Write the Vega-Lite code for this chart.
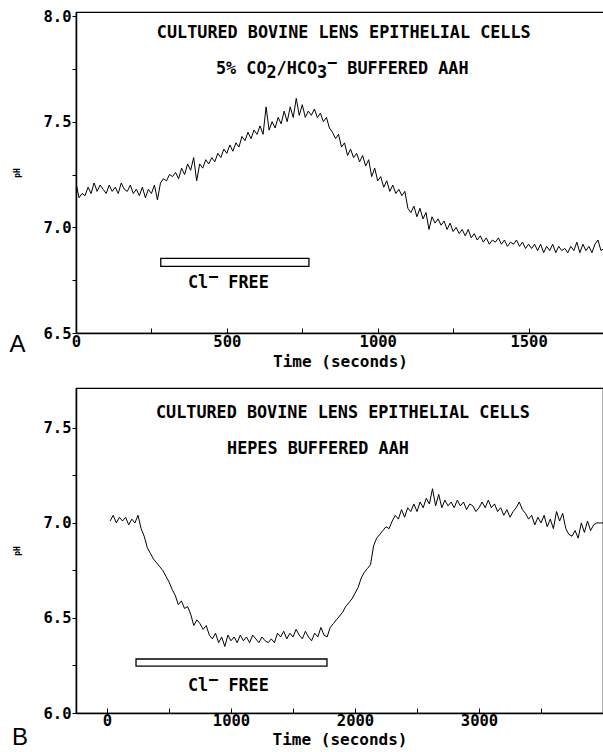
{
  "$schema": "https://vega.github.io/schema/vega-lite/v6.json",
  "background": "white",
  "padding": {"left": 8, "top": 8, "right": 0, "bottom": 0},
  "spacing": 55,
  "bounds": "flush",
  "config": {
    "view": {"stroke": "black", "strokeWidth": 1.2},
    "axis": {
      "grid": false,
      "labelFont": "DejaVu Sans Mono",
      "labelFontWeight": "bold",
      "labelFontSize": 15.5,
      "labelColor": "black",
      "titleFont": "DejaVu Sans Mono",
      "titleFontWeight": "bold",
      "titleColor": "black",
      "domainColor": "black",
      "domainWidth": 1.5,
      "tickColor": "black",
      "tickWidth": 1,
      "labelFlush": false,
      "labelOverlap": false
    },
    "text": {"color": "black"}
  },
  "datasets": {
    "traceA": [
      {"t":0,"pH":7.21},{"t":10,"pH":7.14},{"t":20,"pH":7.16},{"t":30,"pH":7.15},{"t":40,"pH":7.19},{"t":50,"pH":7.16},{"t":60,"pH":7.21},{"t":70,"pH":7.17},{"t":80,"pH":7.2},{"t":90,"pH":7.18},
      {"t":100,"pH":7.16},{"t":110,"pH":7.2},{"t":120,"pH":7.17},{"t":130,"pH":7.19},{"t":140,"pH":7.16},{"t":150,"pH":7.21},{"t":160,"pH":7.18},{"t":170,"pH":7.17},{"t":180,"pH":7.2},{"t":190,"pH":7.16},
      {"t":200,"pH":7.18},{"t":210,"pH":7.15},{"t":220,"pH":7.19},{"t":230,"pH":7.14},{"t":240,"pH":7.18},{"t":250,"pH":7.16},{"t":260,"pH":7.2},{"t":270,"pH":7.13},{"t":280,"pH":7.21},{"t":290,"pH":7.23},
      {"t":300,"pH":7.22},{"t":310,"pH":7.25},{"t":320,"pH":7.24},{"t":330,"pH":7.26},{"t":340,"pH":7.23},{"t":350,"pH":7.28},{"t":360,"pH":7.25},{"t":370,"pH":7.3},{"t":380,"pH":7.27},{"t":390,"pH":7.33},
      {"t":400,"pH":7.22},{"t":410,"pH":7.3},{"t":420,"pH":7.28},{"t":430,"pH":7.32},{"t":440,"pH":7.3},{"t":450,"pH":7.33},{"t":460,"pH":7.31},{"t":470,"pH":7.35},{"t":480,"pH":7.33},{"t":490,"pH":7.37},
      {"t":500,"pH":7.35},{"t":510,"pH":7.39},{"t":520,"pH":7.36},{"t":530,"pH":7.4},{"t":540,"pH":7.38},{"t":550,"pH":7.43},{"t":560,"pH":7.41},{"t":570,"pH":7.45},{"t":580,"pH":7.42},{"t":590,"pH":7.46},
      {"t":600,"pH":7.44},{"t":610,"pH":7.48},{"t":620,"pH":7.44},{"t":630,"pH":7.57},{"t":640,"pH":7.46},{"t":650,"pH":7.5},{"t":660,"pH":7.47},{"t":670,"pH":7.52},{"t":680,"pH":7.49},{"t":690,"pH":7.55},
      {"t":700,"pH":7.5},{"t":710,"pH":7.57},{"t":720,"pH":7.52},{"t":730,"pH":7.61},{"t":740,"pH":7.53},{"t":750,"pH":7.58},{"t":760,"pH":7.52},{"t":770,"pH":7.55},{"t":780,"pH":7.53},{"t":790,"pH":7.56},
      {"t":800,"pH":7.52},{"t":810,"pH":7.54},{"t":820,"pH":7.5},{"t":830,"pH":7.52},{"t":840,"pH":7.47},{"t":850,"pH":7.45},{"t":860,"pH":7.42},{"t":870,"pH":7.44},{"t":880,"pH":7.38},{"t":890,"pH":7.4},
      {"t":900,"pH":7.34},{"t":910,"pH":7.37},{"t":920,"pH":7.33},{"t":930,"pH":7.35},{"t":940,"pH":7.31},{"t":950,"pH":7.34},{"t":960,"pH":7.29},{"t":970,"pH":7.32},{"t":980,"pH":7.24},{"t":990,"pH":7.28},
      {"t":1000,"pH":7.22},{"t":1010,"pH":7.24},{"t":1020,"pH":7.19},{"t":1030,"pH":7.22},{"t":1040,"pH":7.17},{"t":1050,"pH":7.2},{"t":1060,"pH":7.16},{"t":1070,"pH":7.18},{"t":1080,"pH":7.15},{"t":1090,"pH":7.17},
      {"t":1100,"pH":7.09},{"t":1110,"pH":7.07},{"t":1120,"pH":7.1},{"t":1130,"pH":7.05},{"t":1140,"pH":7.09},{"t":1150,"pH":7.04},{"t":1160,"pH":7.07},{"t":1170,"pH":6.99},{"t":1180,"pH":7.05},{"t":1190,"pH":7.02},
      {"t":1200,"pH":7.04},{"t":1210,"pH":7.01},{"t":1220,"pH":7.03},{"t":1230,"pH":6.99},{"t":1240,"pH":7.02},{"t":1250,"pH":6.98},{"t":1260,"pH":7.0},{"t":1270,"pH":6.97},{"t":1280,"pH":6.99},{"t":1290,"pH":6.96},
      {"t":1300,"pH":6.99},{"t":1310,"pH":6.95},{"t":1320,"pH":6.97},{"t":1330,"pH":6.94},{"t":1340,"pH":6.96},{"t":1350,"pH":6.93},{"t":1360,"pH":6.95},{"t":1370,"pH":6.92},{"t":1380,"pH":6.94},{"t":1390,"pH":6.93},
      {"t":1400,"pH":6.95},{"t":1410,"pH":6.92},{"t":1420,"pH":6.94},{"t":1430,"pH":6.91},{"t":1440,"pH":6.93},{"t":1450,"pH":6.92},{"t":1460,"pH":6.94},{"t":1470,"pH":6.91},{"t":1480,"pH":6.93},{"t":1490,"pH":6.9},
      {"t":1500,"pH":6.92},{"t":1510,"pH":6.9},{"t":1520,"pH":6.92},{"t":1530,"pH":6.89},{"t":1540,"pH":6.92},{"t":1550,"pH":6.88},{"t":1560,"pH":6.91},{"t":1570,"pH":6.89},{"t":1580,"pH":6.92},{"t":1590,"pH":6.88},
      {"t":1600,"pH":6.91},{"t":1610,"pH":6.89},{"t":1620,"pH":6.9},{"t":1630,"pH":6.88},{"t":1640,"pH":6.91},{"t":1650,"pH":6.89},{"t":1660,"pH":6.93},{"t":1670,"pH":6.88},{"t":1680,"pH":6.92},{"t":1690,"pH":6.89},
      {"t":1700,"pH":6.91},{"t":1710,"pH":6.88},{"t":1720,"pH":6.92},{"t":1730,"pH":6.94},{"t":1740,"pH":6.89},{"t":1750,"pH":6.9}
    ],
    "traceB": [
      {"t":25,"pH":7.01},{"t":50,"pH":7.04},{"t":75,"pH":7.0},{"t":100,"pH":7.03},{"t":125,"pH":7.01},{"t":150,"pH":7.03},{"t":175,"pH":6.99},{"t":200,"pH":7.02},{"t":225,"pH":7.0},{"t":250,"pH":7.04},
      {"t":275,"pH":6.97},{"t":300,"pH":6.93},{"t":325,"pH":6.87},{"t":350,"pH":6.84},{"t":375,"pH":6.81},{"t":400,"pH":6.79},{"t":425,"pH":6.77},{"t":450,"pH":6.75},{"t":475,"pH":6.72},{"t":500,"pH":6.69},
      {"t":525,"pH":6.65},{"t":550,"pH":6.62},{"t":575,"pH":6.57},{"t":600,"pH":6.59},{"t":625,"pH":6.55},{"t":650,"pH":6.56},{"t":675,"pH":6.52},{"t":700,"pH":6.46},{"t":725,"pH":6.49},{"t":750,"pH":6.47},
      {"t":775,"pH":6.44},{"t":800,"pH":6.46},{"t":825,"pH":6.41},{"t":850,"pH":6.39},{"t":875,"pH":6.42},{"t":900,"pH":6.37},{"t":925,"pH":6.4},{"t":950,"pH":6.35},{"t":975,"pH":6.41},{"t":1000,"pH":6.38},
      {"t":1025,"pH":6.4},{"t":1050,"pH":6.37},{"t":1075,"pH":6.41},{"t":1100,"pH":6.38},{"t":1125,"pH":6.4},{"t":1150,"pH":6.37},{"t":1175,"pH":6.41},{"t":1200,"pH":6.39},{"t":1225,"pH":6.37},{"t":1250,"pH":6.4},
      {"t":1275,"pH":6.38},{"t":1300,"pH":6.37},{"t":1325,"pH":6.39},{"t":1350,"pH":6.37},{"t":1375,"pH":6.42},{"t":1400,"pH":6.4},{"t":1425,"pH":6.43},{"t":1450,"pH":6.39},{"t":1475,"pH":6.42},{"t":1500,"pH":6.4},
      {"t":1525,"pH":6.44},{"t":1550,"pH":6.41},{"t":1575,"pH":6.39},{"t":1600,"pH":6.43},{"t":1625,"pH":6.4},{"t":1650,"pH":6.38},{"t":1675,"pH":6.42},{"t":1700,"pH":6.4},{"t":1725,"pH":6.45},{"t":1750,"pH":6.41},
      {"t":1775,"pH":6.4},{"t":1800,"pH":6.45},{"t":1825,"pH":6.47},{"t":1850,"pH":6.49},{"t":1875,"pH":6.51},{"t":1900,"pH":6.53},{"t":1925,"pH":6.56},{"t":1950,"pH":6.58},{"t":1975,"pH":6.6},{"t":2000,"pH":6.63},
      {"t":2025,"pH":6.66},{"t":2050,"pH":6.71},{"t":2075,"pH":6.74},{"t":2100,"pH":6.76},{"t":2125,"pH":6.78},{"t":2150,"pH":6.88},{"t":2175,"pH":6.92},{"t":2200,"pH":6.94},{"t":2225,"pH":6.96},{"t":2250,"pH":6.98},
      {"t":2275,"pH":6.97},{"t":2300,"pH":7.01},{"t":2325,"pH":7.04},{"t":2350,"pH":7.02},{"t":2375,"pH":7.07},{"t":2400,"pH":7.03},{"t":2425,"pH":7.08},{"t":2450,"pH":7.06},{"t":2475,"pH":7.1},{"t":2500,"pH":7.06},
      {"t":2525,"pH":7.11},{"t":2550,"pH":7.08},{"t":2575,"pH":7.13},{"t":2600,"pH":7.1},{"t":2625,"pH":7.18},{"t":2650,"pH":7.09},{"t":2675,"pH":7.15},{"t":2700,"pH":7.08},{"t":2725,"pH":7.12},{"t":2750,"pH":7.09},
      {"t":2775,"pH":7.11},{"t":2800,"pH":7.08},{"t":2825,"pH":7.12},{"t":2850,"pH":7.09},{"t":2875,"pH":7.11},{"t":2900,"pH":7.07},{"t":2925,"pH":7.1},{"t":2950,"pH":7.09},{"t":2975,"pH":7.06},{"t":3000,"pH":7.08},
      {"t":3025,"pH":7.11},{"t":3050,"pH":7.08},{"t":3075,"pH":7.12},{"t":3100,"pH":7.08},{"t":3125,"pH":7.1},{"t":3150,"pH":7.06},{"t":3175,"pH":7.08},{"t":3200,"pH":7.04},{"t":3225,"pH":7.07},{"t":3250,"pH":7.03},
      {"t":3275,"pH":7.06},{"t":3300,"pH":7.08},{"t":3325,"pH":7.11},{"t":3350,"pH":7.07},{"t":3375,"pH":7.05},{"t":3400,"pH":7.02},{"t":3425,"pH":7.04},{"t":3450,"pH":6.99},{"t":3475,"pH":7.03},{"t":3500,"pH":7.0},
      {"t":3525,"pH":7.04},{"t":3550,"pH":6.98},{"t":3575,"pH":7.02},{"t":3600,"pH":6.97},{"t":3625,"pH":7.06},{"t":3650,"pH":7.01},{"t":3675,"pH":7.05},{"t":3700,"pH":6.97},{"t":3725,"pH":6.94},{"t":3750,"pH":6.93},
      {"t":3775,"pH":6.96},{"t":3800,"pH":6.92},{"t":3825,"pH":7.0},{"t":3850,"pH":6.95},{"t":3875,"pH":7.01},{"t":3900,"pH":6.96},{"t":3925,"pH":6.99},{"t":3950,"pH":7.0},{"t":3975,"pH":7.0},{"t":4000,"pH":7.0}
    ],
    "barA": [{"t":281,"t2":772,"pH":6.853,"pH2":6.815}],
    "barB": [{"t":234,"t2":1774,"pH":6.284,"pH2":6.247}],
    "textA": [
      {"t":268,"pH":7.919,"label":"CULTURED BOVINE LENS EPITHELIAL CELLS"},
      {"t":464,"pH":7.749,"label":"5% CO\u00a0/HCO\u00a0\u00a0\u00a0BUFFERED AAH"},
      {"t":631,"pH":7.729,"label":"2"},
      {"t":799,"pH":7.729,"label":"3"},
      {"t":832,"pH":7.777,"label":"\u2212"},
      {"t":371,"pH":6.735,"label":"Cl\u00a0\u00a0FREE"},
      {"t":438,"pH":6.763,"label":"\u2212"}
    ],
    "textB": [
      {"t":395,"pH":7.579,"label":"CULTURED BOVINE LENS EPITHELIAL CELLS"},
      {"t":968,"pH":7.389,"label":"HEPES BUFFERED AAH"},
      {"t":653,"pH":6.142,"label":"Cl\u00a0\u00a0FREE"},
      {"t":816,"pH":6.173,"label":"\u2212"}
    ],
    "letterA": [{"t":-194,"pH":6.441,"label":"A"}],
    "letterB": [{"t":-702,"pH":5.87,"label":"B"}]
  },
  "vconcat": [
    {
      "width": 528,
      "height": 321,
      "layer": [
        {
          "data": {"name": "traceA"},
          "mark": {"type": "line", "color": "black", "strokeWidth": 1, "clip": true},
          "encoding": {
            "x": {"field": "t", "type": "quantitative",
              "scale": {"domain": [0, 1750], "nice": false, "zero": false},
              "axis": {"title": "Time (seconds)", "titleFontSize": 16, "titlePadding": 4,
                "values": [0, 250, 500, 750, 1000, 1250, 1500],
                "labelExpr": "datum.value % 500 == 0 ? format(datum.value, 'd') : ''",
                "tickSize": -5, "labelPadding": 6}},
            "y": {"field": "pH", "type": "quantitative",
              "scale": {"domain": [6.5, 8.019], "nice": false, "zero": false},
              "axis": {"title": "pH", "titleFontSize": 8, "titlePadding": 22,
                "values": [6.5, 6.75, 7, 7.25, 7.5, 7.75, 8],
                "labelExpr": "(datum.value * 2) % 1 == 0 ? format(datum.value, '.1f') : ''",
                "tickSize": 4, "labelPadding": 1}}
          }
        },
        {
          "data": {"name": "barA"},
          "mark": {"type": "rect", "fill": "white", "stroke": "black", "strokeWidth": 1.3},
          "encoding": {
            "x": {"field": "t", "type": "quantitative"},
            "x2": {"field": "t2"},
            "y": {"field": "pH", "type": "quantitative"},
            "y2": {"field": "pH2"}
          }
        },
        {
          "data": {"name": "textA"},
          "mark": {"type": "text", "font": "DejaVu Sans Mono", "fontWeight": "bold", "fontSize": 16.8, "align": "left", "baseline": "middle"},
          "encoding": {
            "x": {"field": "t", "type": "quantitative"},
            "y": {"field": "pH", "type": "quantitative"},
            "text": {"field": "label"}
          }
        },
        {
          "data": {"name": "letterA"},
          "mark": {"type": "text", "font": "Liberation Sans", "fontSize": 24, "align": "center", "baseline": "middle"},
          "encoding": {
            "x": {"field": "t", "type": "quantitative"},
            "y": {"field": "pH", "type": "quantitative"},
            "text": {"field": "label"}
          }
        }
      ]
    },
    {
      "width": 527,
      "height": 325,
      "layer": [
        {
          "data": {"name": "traceB"},
          "mark": {"type": "line", "color": "black", "strokeWidth": 1, "clip": true},
          "encoding": {
            "x": {"field": "t", "type": "quantitative",
              "scale": {"domain": [-250, 4000], "nice": false, "zero": false},
              "axis": {"title": "Time (seconds)", "titleFontSize": 16, "titlePadding": 3,
                "values": [0, 500, 1000, 1500, 2000, 2500, 3000, 3500],
                "labelExpr": "datum.value % 1000 == 0 ? format(datum.value, 'd') : ''",
                "tickSize": -5, "labelPadding": 5}},
            "y": {"field": "pH", "type": "quantitative",
              "scale": {"domain": [6.0, 7.71], "nice": false, "zero": false},
              "axis": {"title": "pH", "titleFontSize": 8, "titlePadding": 22,
                "values": [6, 6.25, 6.5, 6.75, 7, 7.25, 7.5],
                "labelExpr": "(datum.value * 2) % 1 == 0 ? format(datum.value, '.1f') : ''",
                "tickSize": 4, "labelPadding": 1}}
          }
        },
        {
          "data": {"name": "barB"},
          "mark": {"type": "rect", "fill": "white", "stroke": "black", "strokeWidth": 1.3},
          "encoding": {
            "x": {"field": "t", "type": "quantitative"},
            "x2": {"field": "t2"},
            "y": {"field": "pH", "type": "quantitative"},
            "y2": {"field": "pH2"}
          }
        },
        {
          "data": {"name": "textB"},
          "mark": {"type": "text", "font": "DejaVu Sans Mono", "fontWeight": "bold", "fontSize": 16.8, "align": "left", "baseline": "middle"},
          "encoding": {
            "x": {"field": "t", "type": "quantitative"},
            "y": {"field": "pH", "type": "quantitative"},
            "text": {"field": "label"}
          }
        },
        {
          "data": {"name": "letterB"},
          "mark": {"type": "text", "font": "Liberation Sans", "fontSize": 24, "align": "center", "baseline": "middle"},
          "encoding": {
            "x": {"field": "t", "type": "quantitative"},
            "y": {"field": "pH", "type": "quantitative"},
            "text": {"field": "label"}
          }
        }
      ]
    }
  ]
}
